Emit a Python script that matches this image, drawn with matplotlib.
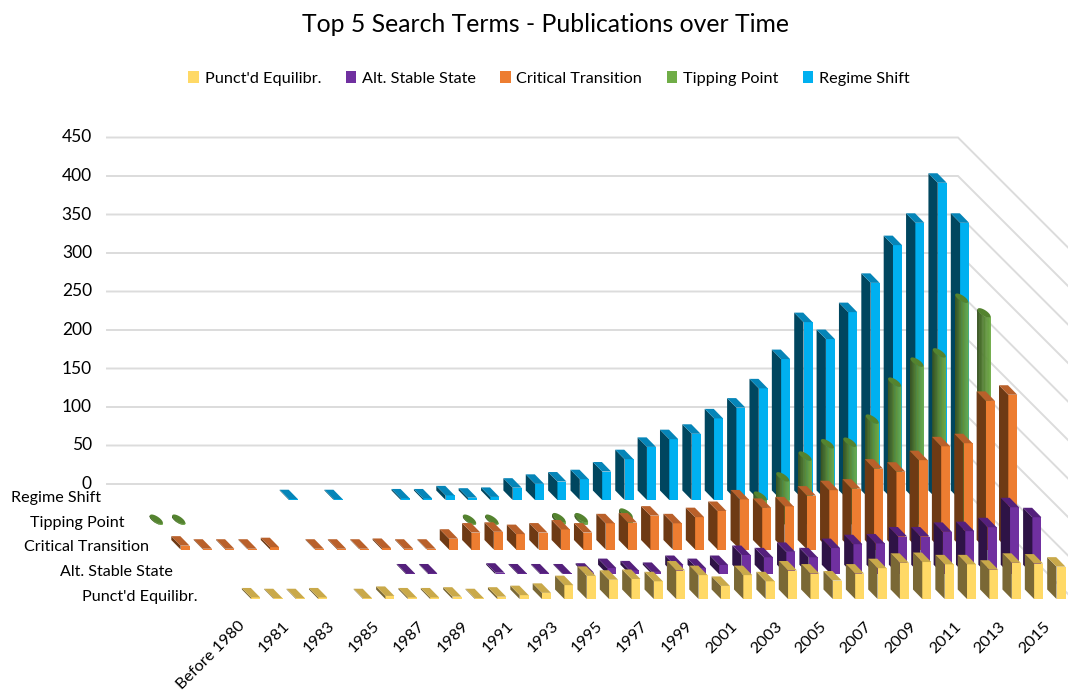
#!/usr/bin/env python3
# -*- coding: utf-8 -*-
import numpy as np
from matplotlib import pyplot as plt
from matplotlib.colors import to_rgb
from matplotlib.patches import Patch

plt.rcParams['font.family'] = ['Lato', 'DejaVu Sans']

title = 'Top 5 Search Terms - Publications over Time'
x_labels = ['Before 1980', '1981', '1983', '1985', '1987', '1989', '1991', '1993', '1995',
            '1997', '1999', '2001', '2003', '2005', '2007', '2009', '2011', '2013', '2015']
y_ticks = [0, 50, 100, 150, 200, 250, 300, 350, 400, 450]

# front row first
names = ["Punct'd Equilibr.", 'Alt. Stable State', 'Critical Transition', 'Tipping Point', 'Regime Shift']

punct = [0, 2, 1, 1, 2, 0, 1, 4, 2, 2, 3, 1, 3, 5, 8, 18, 30, 25, 26, 23, 37, 31, 17, 31, 23, 37, 33, 24,
         33, 40, 47, 48, 45, 45, 38, 47, 46, 42]
alt = [0, 0, 0, 0, 0, 0, 0, 0, 0, 1, 1, 0, 0, 2, 1, 1, 1, 2, 8, 5, 3, 12, 8, 12, 25, 22, 29, 22,
       34, 39, 40, 49, 49, 55, 56, 61, 87, 74]
critical = [5, 1, 1, 1, 3, 0, 1, 1, 1, 2, 1, 1, 14, 22, 23, 20, 22, 26, 22, 34, 35, 44, 34, 42, 50, 65, 54, 56,
            70, 77, 79, 105, 101, 116, 134, 138, 193, 201]
tipping = [1, 1, 0, 0, 0, 0, 0, 0, 0, 0, 0, 0, 0, 0, 1, 1, 0, 0, 3, 3, 0, 9, 0, 0, 0, 0, 0, 31,
           56, 83, 99, 101, 131, 179, 205, 217, 288, 269]
regime = [0, 0, 0, 0, 0, 0, 0, 1, 0, 1, 0, 0, 2, 2, 6, 3, 4, 16, 21, 24, 27, 37, 53, 69, 79, 86, 106, 120,
          145, 183, 231, 209, 244, 282, 331, 360, 412, 360]
series = [punct, alt, critical, tipping, regime]

# (front, side, top)
colors = [('#FFD966', '#7A6835', '#C9A94A'),
          ('#7030A0', '#2E1346', '#54207C'),
          ('#ED7D31', '#6E3A14', '#B9602A'),
          ('#70AD47', '#3A5523', '#54832F'),
          ('#00B0F0', '#00465F', '#0585B8')]

# oblique projection, all in figure pixels
STEP = 22.37       # one category to the right
ROW_X = 24.1       # one row back: this much left
ROW_Y = 24.75      # and this much up
PX_PER_UNIT = 0.77
W = 9.0            # bar front width
DX, DY = 9.3, 9.5  # bar depth
RIGHT_37 = 1065.5  # front-right edge of the last front-row bar
BASE_0 = 599.0     # front-bottom of front row


def front_corner(i, row, v=0):
    return (RIGHT_37 - STEP * (37 - i) - ROW_X * row,
            BASE_0 - ROW_Y * row - PX_PER_UNIT * v)


fig = plt.figure(figsize=(10.68, 6.92), dpi=100)
ax = fig.add_axes([0, 0, 1, 1])
ax.set_xlim(0, 1068)
ax.set_ylim(692, 0)
ax.axis('off')

# back wall and side wall grid
WALL_L, WALL_R, WALL_0 = 107, 958, 484
for t in y_ticks:
    y = WALL_0 - PX_PER_UNIT * t
    ax.plot([WALL_L, WALL_R, 1068], [y, y, y + 1.0 * (1068 - WALL_R)], color='#DCDCDC', lw=1.4, zorder=1,
            solid_joinstyle='miter')
    ax.text(92, y, str(t), ha='right', va='center', fontsize=12.5, color='black')


def draw_box(i, row, v, cols, z):
    x, y0 = front_corner(i, row)
    y1 = y0 - PX_PER_UNIT * v
    front, side, top = cols
    ax.fill([x - W, x, x, x - W], [y0, y0, y1, y1], color=front, lw=0, zorder=z)
    ax.fill([x - W - DX, x - W, x - W, x - W - DX], [y0 - DY, y0, y1, y1 - DY], color=side, lw=0, zorder=z)
    ax.fill([x - W, x, x - DX, x - W - DX], [y1, y1, y1 - DY, y1 - DY], color=top, lw=0, zorder=z)


def draw_cyl(i, row, v, cols, z):
    x, y0 = front_corner(i, row)
    y1 = y0 - PX_PER_UNIT * v
    cx = x - W / 2 - DX / 2
    cy = -DY / 2
    t = np.radians(np.linspace(-48, -228, 15))
    ex = cx + W / 2 * np.cos(t) - DX / 2 * np.sin(t)
    ey = cy - DY / 2 * np.sin(t)
    dark = np.array(to_rgb(cols[1]))
    light = np.array(to_rgb(cols[0]))
    for k in range(len(t) - 1):
        f = (ex[k] + ex[k + 1]) / 2
        f = np.clip((f - ex.min()) / (ex.max() - ex.min()), 0, 1) ** 0.8
        c = dark + (light - dark) * f
        ax.fill([ex[k], ex[k + 1], ex[k + 1], ex[k]],
                [y0 + ey[k], y0 + ey[k + 1], y1 + ey[k + 1], y1 + ey[k]],
                color=c, lw=0.3, zorder=z)
    t2 = np.radians(np.linspace(0, 360, 41))
    ax.fill(cx + W / 2 * np.cos(t2) - DX / 2 * np.sin(t2),
            y1 + cy - DY / 2 * np.sin(t2), color=cols[2], lw=0, zorder=z)


# back rows first so the front rows cover them
for row in range(len(series) - 1, -1, -1):
    z = 10 - row
    for i, v in enumerate(series[row]):
        if v == 0:
            continue
        if names[row] == 'Tipping Point':
            draw_cyl(i, row, v, colors[row], z)
        else:
            draw_box(i, row, v, colors[row], z)
    # row name at the left of the floor
    ax.text(197 - ROW_X * row, 596.5 - 24.6 * row, names[row], ha='right', va='center', fontsize=11.6, color='black')

for k, lab in enumerate(x_labels):
    ax.text(243 + STEP * 2 * k, 624, lab, rotation=45, rotation_mode='anchor', ha='right', va='center',
            fontsize=11.7, color='black')

ax.text(546, 25, title, ha='center', va='center', fontsize=17.8, color='black')

handles = [Patch(facecolor=colors[k][0], label=names[k]) for k in range(len(names))]
ax.legend(handles=handles, ncol=5, frameon=False, loc='center', bbox_to_anchor=(549, 78.5),
          bbox_transform=ax.transData, fontsize=11.7, handlelength=0.65, handleheight=0.75,
          handletextpad=0.35, columnspacing=1.5)

plt.savefig('out.png', dpi=100)
